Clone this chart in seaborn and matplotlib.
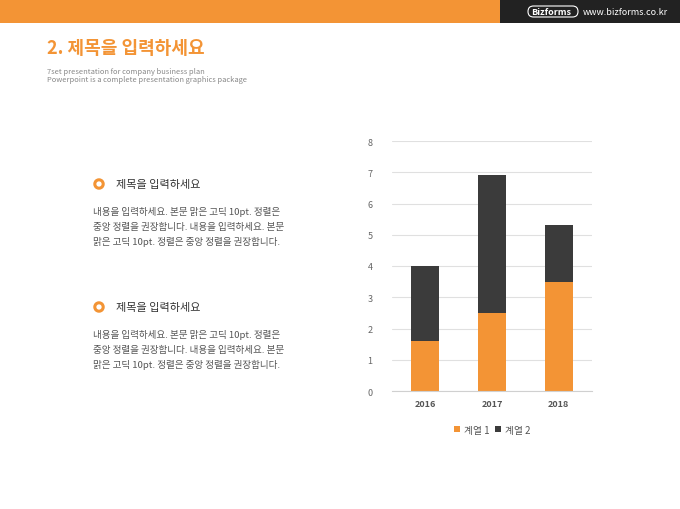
import numpy as np
import pandas as pd
import seaborn as sns
import matplotlib.pyplot as plt
from matplotlib.patches import Rectangle, FancyBboxPatch, Circle

sns.set_style("white")
plt.rcParams['font.family'] = ['Noto Sans CJK KR', 'DejaVu Sans']

years = ['2016', '2017', '2018']
series1 = [1.6, 2.5, 3.5]
series2 = [2.4, 4.4, 1.8]
labels = ['계열 1', '계열 2']

ORANGE = '#f39435'
DARK = '#3b3b3b'

df = pd.DataFrame({'year': years, 's1': series1, 's2': series2})
df['total'] = df.s1 + df.s2

fig = plt.figure(figsize=(6.8, 5.1), dpi=100)
W, H = 680, 510

# background decorations in pixel coords
bg = fig.add_axes([0, 0, 1, 1])
bg.set_xlim(0, W)
bg.set_ylim(H, 0)
bg.axis('off')
bg.add_patch(Rectangle((0, 0), 500, 24, color=ORANGE, lw=0))
bg.add_patch(Rectangle((500, 0), 180, 24, color='#222222', lw=0))
bg.add_patch(FancyBboxPatch((528, 7), 50, 11, boxstyle='round,pad=0,rounding_size=5.5',
                            fc='none', ec='white', lw=0.8))
bg.text(551, 12.5, 'Bizforms', color='white', fontsize=6.5, fontweight='bold', ha='center', va='center')
bg.text(583, 12.5, 'www.bizforms.co.kr', color='white', fontsize=6.5, ha='left', va='center')
bg.text(47, 49, '2. 제목을 입력하세요', color=ORANGE, fontsize=13, fontweight='bold', va='center')
bg.text(47, 72, '7set presentation for company business plan', color='#888888', fontsize=5.4, va='center')
bg.text(47, 80, 'Powerpoint is a complete presentation graphics package', color='#888888', fontsize=5.4, va='center')

body = ['내용을 입력하세요. 본문 맑은 고딕 10pt. 정렬은',
        '중앙 정렬을 권장합니다. 내용을 입력하세요. 본문',
        '맑은 고딕 10pt. 정렬은 중앙 정렬을 권장합니다.']
for y0 in (185, 308):
    bg.add_patch(Circle((99, y0), 4.2, fc='none', ec=ORANGE, lw=2.2))
    bg.text(116, y0, '제목을 입력하세요', color='#333333', fontsize=8, va='center')
    for i, line in enumerate(body):
        bg.text(93, y0 + 27 + i * 15, line, color='#555555', fontsize=6.9, va='center')

# chart
ax = fig.add_axes([392 / W, 1 - 392 / H, 200 / W, 250 / H])
sns.barplot(data=df, x='year', y='total', color=DARK, width=0.42, ax=ax, label=labels[1],
            saturation=1, linewidth=0)
sns.barplot(data=df, x='year', y='s1', color=ORANGE, width=0.42, ax=ax, label=labels[0],
            saturation=1, linewidth=0)
ax.set_ylim(0, 8)
ax.set_xlim(-0.5, 2.5)
ax.set_yticks(range(0, 9))
ax.grid(axis='y', color='#e0e0e0', lw=0.8)
ax.set_axisbelow(True)
ax.set_xlabel('')
ax.set_ylabel('')
sns.despine(ax=ax, left=True)
ax.spines['bottom'].set_color('#d0d0d0')
ax.tick_params(axis='y', length=0, labelsize=6.5, labelcolor='#666666', pad=14)
ax.tick_params(axis='x', length=0, labelsize=6.5, labelcolor='#555555', pad=6)
for t in ax.get_xticklabels():
    t.set_fontweight('bold')
h, l = ax.get_legend_handles_labels()
ax.legend(h[::-1], l[::-1], loc='upper center', bbox_to_anchor=(0.5, -0.1), ncol=2, frameon=False,
          fontsize=7, handlelength=0.6, handleheight=0.6, handletextpad=0.4, columnspacing=0.6,
          labelcolor='#555555')

fig.savefig('out.png', dpi=100)
